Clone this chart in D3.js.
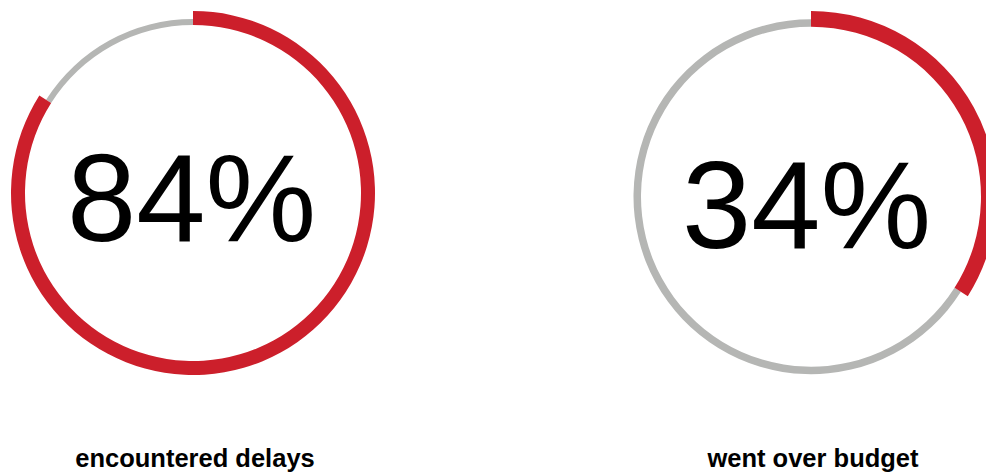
<!DOCTYPE html>
<html>
<head>
<meta charset="utf-8">
<script src="https://cdn.jsdelivr.net/npm/d3@7"></script>
<style>
  html, body { margin: 0; padding: 0; background: #fff; }
  svg { display: block; }
</style>
</head>
<body>
<svg id="chart" width="986" height="474"></svg>
<script>
// ---- data ----
const labels = ["encountered delays", "went over budget"];
const values = [84, 34];            // percent
const valueText = ["84%", "34%"];

// ---- layout ----
const W = 986, H = 474;
const RED = "#cc1f2b", GRAY = "#b5b6b4";
const layout = [
  { cy: 193, inner: 168, grayOuter: 174, redOuter: 182, textY: 241, textDx: -1.5 },
  { cy: 196.7, inner: 170, grayOuter: 177.5, redOuter: 185.7, textY: 248, textDx: -4.5 }
];

const svg = d3.select("#chart");
const x = d3.scalePoint().domain(labels).range([193, 811]);
const angle = d3.scaleLinear().domain([0, 100]).range([0, 2 * Math.PI]);

labels.forEach((lab, i) => {
  const L = layout[i];
  const g = svg.append("g").attr("transform", `translate(${x(lab)},${L.cy})`);

  // gray remainder
  g.append("path")
    .attr("d", d3.arc()({ innerRadius: L.inner, outerRadius: L.grayOuter,
                          startAngle: angle(values[i]), endAngle: angle(100) }))
    .attr("fill", GRAY);

  // red value arc
  g.append("path")
    .attr("d", d3.arc()({ innerRadius: L.inner, outerRadius: L.redOuter,
                          startAngle: angle(0), endAngle: angle(values[i]) }))
    .attr("fill", RED);

  g.append("text")
    .attr("x", L.textDx)
    .attr("y", L.textY - L.cy)
    .attr("text-anchor", "middle")
    .attr("font-family", "Liberation Sans, Arial, sans-serif")
    .attr("font-size", 124.5)
    .attr("fill", "#000")
    .text(valueText[i]);

  svg.append("text")
    .attr("x", x(lab) + 2)
    .attr("y", 467)
    .attr("text-anchor", "middle")
    .attr("font-family", "Liberation Sans, Arial, sans-serif")
    .attr("font-weight", "bold")
    .attr("font-size", 25.5)
    .attr("fill", "#000")
    .text(lab);
});
</script>
</body>
</html>
